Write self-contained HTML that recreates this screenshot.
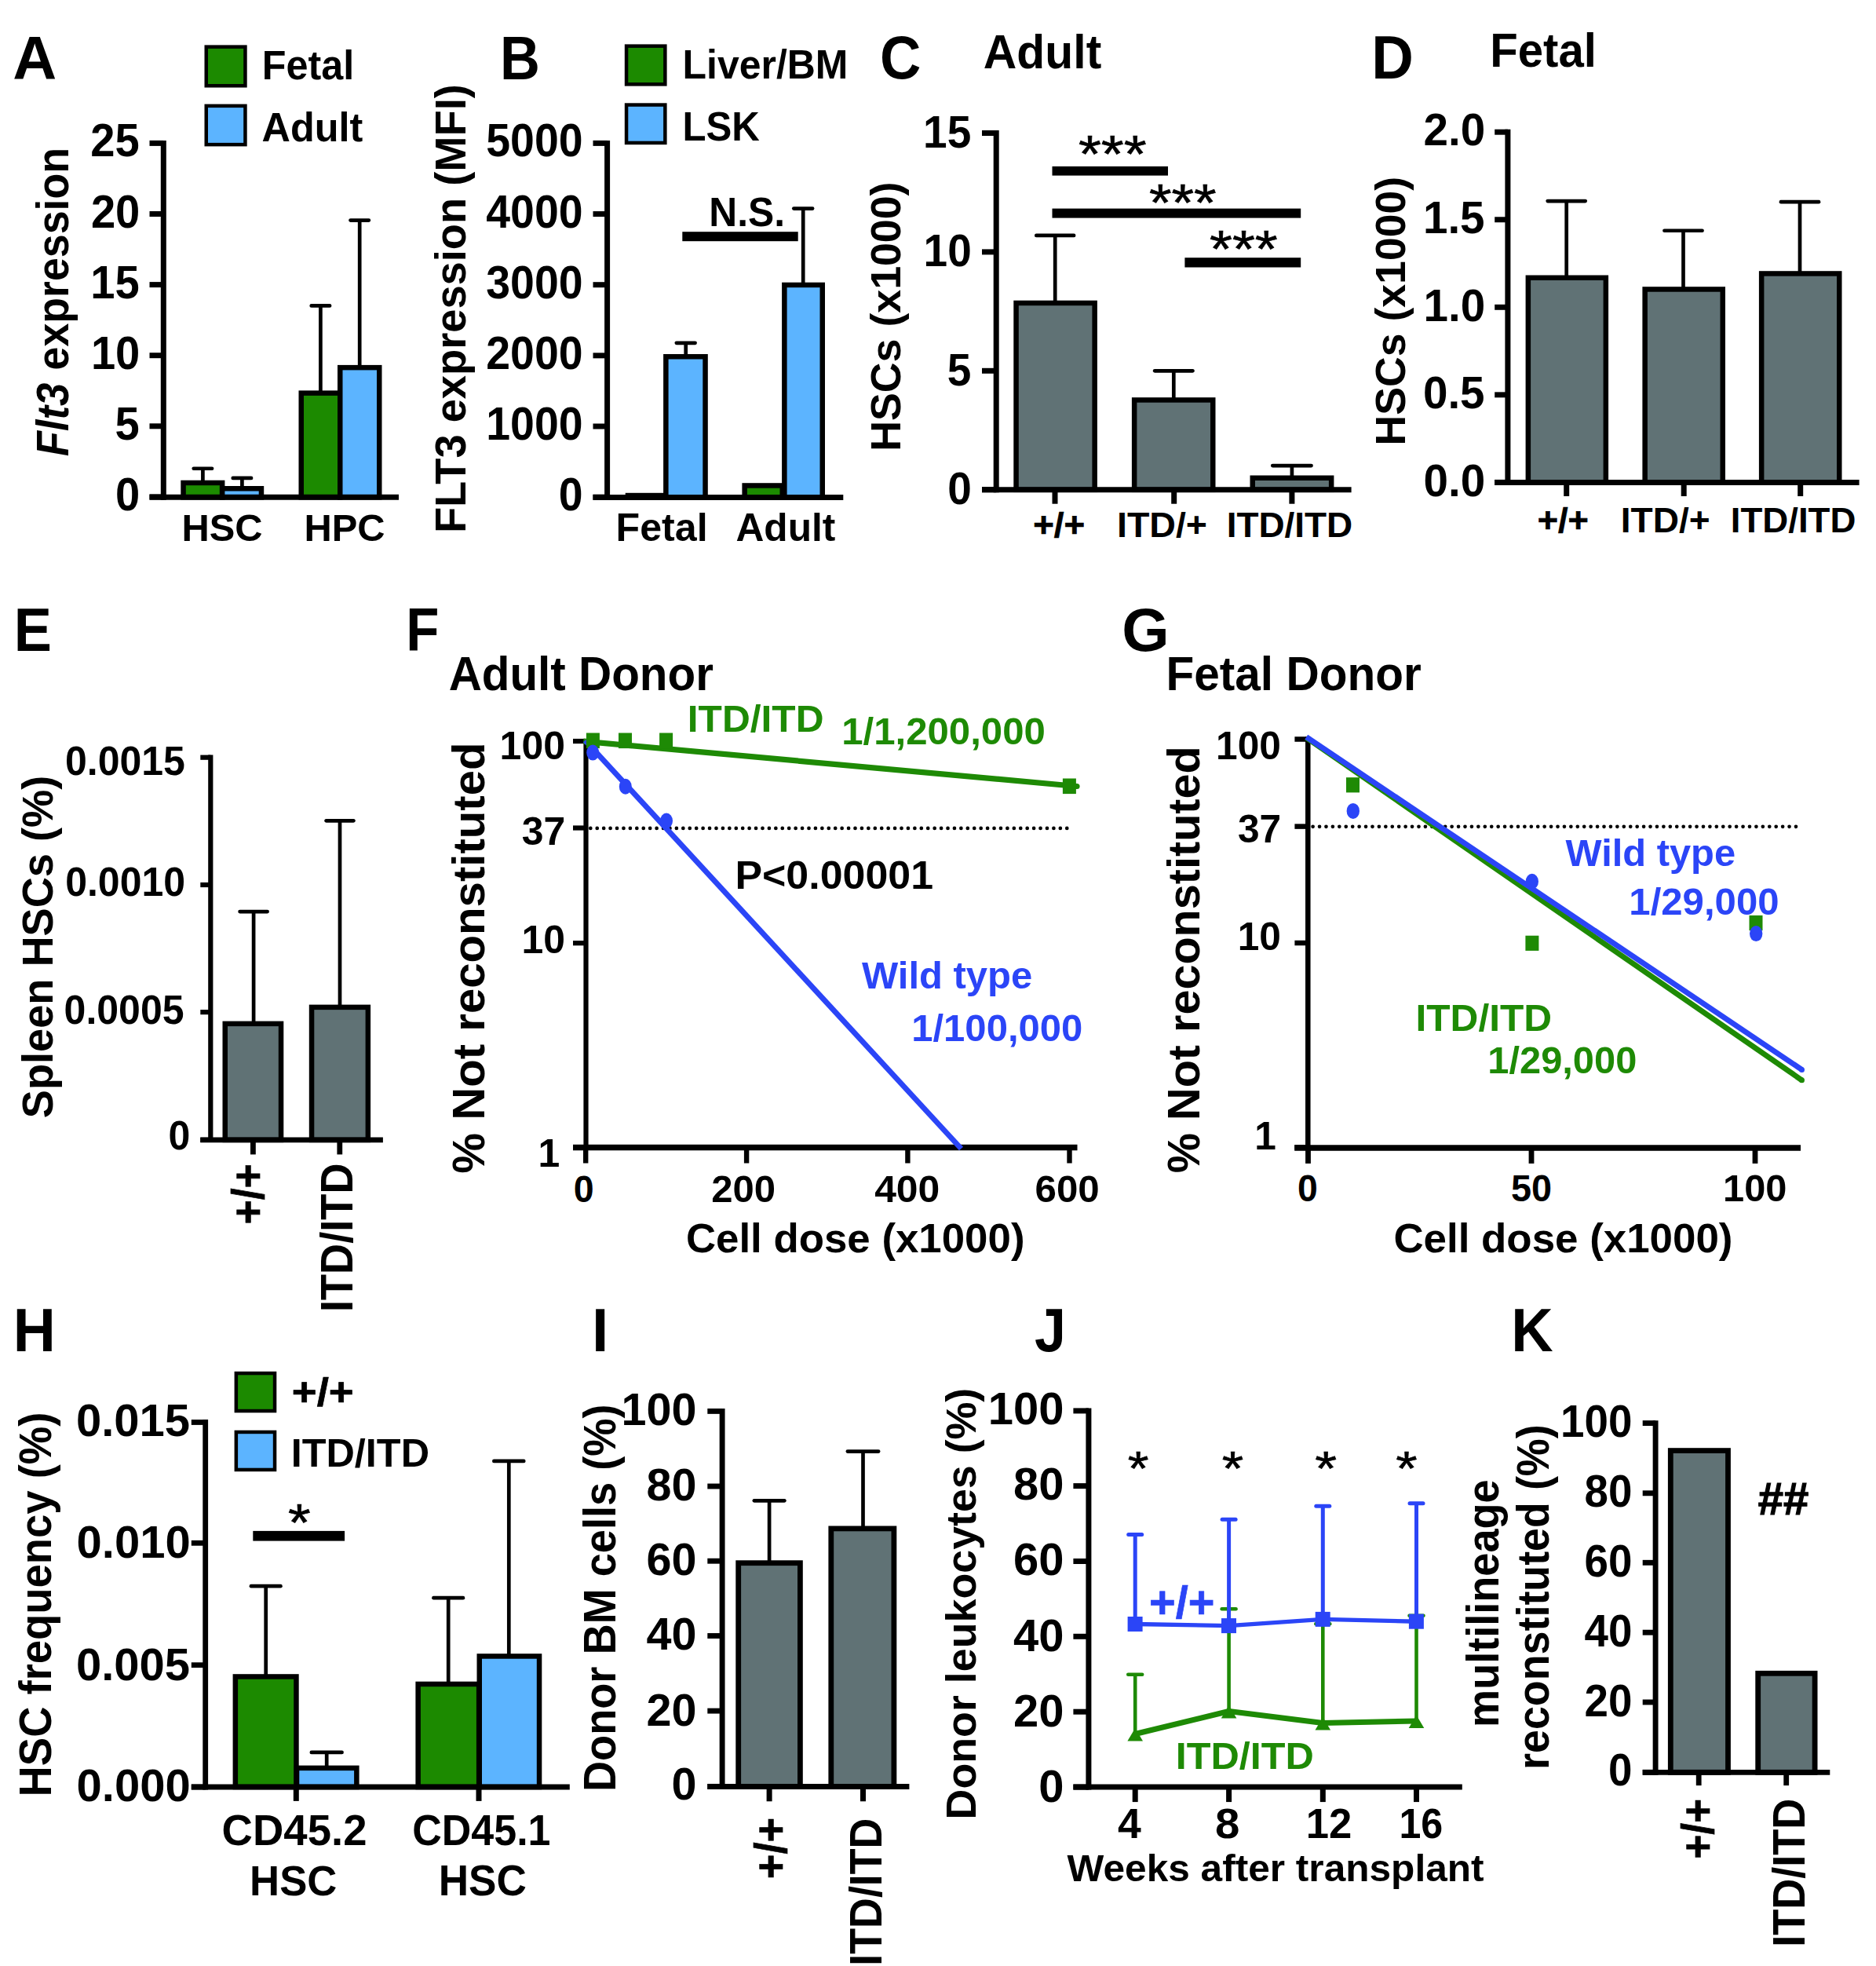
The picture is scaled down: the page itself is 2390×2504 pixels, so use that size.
<!DOCTYPE html>
<html lang="en"><head><meta charset="utf-8"><title>Figure</title>
<style>
html,body{margin:0;padding:0;background:#fff}
svg{display:block}
text{font-family:"Liberation Sans",Arial,Helvetica,sans-serif;font-weight:bold}
</style></head><body>
<svg width="2390" height="2504" viewBox="0 0 2390 2504">
<rect width="2390" height="2504" fill="#fff"/>
<!-- panelA -->
<text transform="translate(16.25,100.60) scale(1.0333,1.0300)" font-size="75">A</text>
<rect x="262.75" y="59.65" width="49.70" height="49.60" fill="#1C8A00" stroke="#000" stroke-width="4.5"/>
<rect x="262.75" y="134.85" width="49.70" height="49.30" fill="#5CB4FF" stroke="#000" stroke-width="4.5"/>
<text transform="translate(333.73,101.00) scale(1.0067,1.0300)" font-size="50">Fetal</text>
<text transform="translate(333.59,179.50) scale(1.0084,1.0300)" font-size="50">Adult</text>
<text transform="translate(115.32,199.40) scale(0.9850,1.0300)" font-size="57">25</text>
<text transform="translate(115.88,289.50) scale(0.9850,1.0300)" font-size="57">20</text>
<text transform="translate(115.32,379.60) scale(0.9850,1.0300)" font-size="57">15</text>
<text transform="translate(115.88,469.70) scale(0.9850,1.0300)" font-size="57">10</text>
<text transform="translate(146.54,559.80) scale(0.9850,1.0300)" font-size="57">5</text>
<text transform="translate(147.10,649.90) scale(0.9850,1.0300)" font-size="57">0</text>
<text transform="translate(87.00,581.29) rotate(-90) scale(0.9399,1.0300)" font-size="56" font-style="italic">Flt3</text>
<text transform="translate(87.00,471.48) rotate(-90) scale(0.9589,1.0300)" font-size="56">expression</text>
<rect x="233.55" y="614.95" width="49.60" height="18.35" fill="#1C8A00" stroke="#000" stroke-width="6.5" stroke-linejoin="miter"/>
<rect x="283.15" y="622.25" width="49.80" height="11.05" fill="#5CB4FF" stroke="#000" stroke-width="6.5" stroke-linejoin="miter"/>
<rect x="383.75" y="500.65" width="49.50" height="132.65" fill="#1C8A00" stroke="#000" stroke-width="6.5" stroke-linejoin="miter"/>
<rect x="433.25" y="468.15" width="50.00" height="165.15" fill="#5CB4FF" stroke="#000" stroke-width="6.5" stroke-linejoin="miter"/>
<line x1="258.40" y1="596.75" x2="258.40" y2="612.00" stroke="#000" stroke-width="4.7"/>
<line x1="246.75" y1="596.75" x2="270.05" y2="596.75" stroke="#000" stroke-width="4.7" stroke-linecap="round"/>
<line x1="308.40" y1="608.95" x2="308.40" y2="620.00" stroke="#000" stroke-width="4.7"/>
<line x1="296.75" y1="608.95" x2="320.05" y2="608.95" stroke="#000" stroke-width="4.7" stroke-linecap="round"/>
<line x1="408.40" y1="389.45" x2="408.40" y2="498.00" stroke="#000" stroke-width="4.7"/>
<line x1="396.75" y1="389.45" x2="420.05" y2="389.45" stroke="#000" stroke-width="4.7" stroke-linecap="round"/>
<line x1="458.20" y1="280.55" x2="458.20" y2="465.00" stroke="#000" stroke-width="4.7"/>
<line x1="446.55" y1="280.55" x2="469.85" y2="280.55" stroke="#000" stroke-width="4.7" stroke-linecap="round"/>
<line x1="208.30" y1="178.90" x2="208.30" y2="636.80" stroke="#000" stroke-width="7"/>
<line x1="190.50" y1="182.40" x2="208.30" y2="182.40" stroke="#000" stroke-width="7"/>
<line x1="190.50" y1="272.50" x2="208.30" y2="272.50" stroke="#000" stroke-width="7"/>
<line x1="190.50" y1="362.60" x2="208.30" y2="362.60" stroke="#000" stroke-width="7"/>
<line x1="190.50" y1="452.70" x2="208.30" y2="452.70" stroke="#000" stroke-width="7"/>
<line x1="190.50" y1="542.80" x2="208.30" y2="542.80" stroke="#000" stroke-width="7"/>
<line x1="190.50" y1="632.90" x2="208.30" y2="632.90" stroke="#000" stroke-width="7"/>
<line x1="190.50" y1="633.30" x2="508.00" y2="633.30" stroke="#000" stroke-width="7"/>
<text transform="translate(231.42,688.60) scale(1.0512,1.0300)" font-size="46.5">HSC</text>
<text transform="translate(387.42,688.60) scale(1.0512,1.0300)" font-size="46.5">HPC</text>
<!-- panelB -->
<text transform="translate(636.92,100.60) scale(0.9388,1.0300)" font-size="75">B</text>
<rect x="798.05" y="58.65" width="49.30" height="48.70" fill="#1C8A00" stroke="#000" stroke-width="4.5"/>
<rect x="798.05" y="133.55" width="49.30" height="48.40" fill="#5CB4FF" stroke="#000" stroke-width="4.5"/>
<text transform="translate(869.55,100.00) scale(0.9987,1.0300)" font-size="50">Liver/BM</text>
<text transform="translate(869.61,179.00) scale(0.9825,1.0300)" font-size="50">LSK</text>
<text transform="translate(619.23,199.40) scale(0.9730,1.0300)" font-size="57">5000</text>
<text transform="translate(619.23,289.55) scale(0.9730,1.0300)" font-size="57">4000</text>
<text transform="translate(619.23,379.70) scale(0.9730,1.0300)" font-size="57">3000</text>
<text transform="translate(619.23,469.85) scale(0.9730,1.0300)" font-size="57">2000</text>
<text transform="translate(619.23,560.00) scale(0.9730,1.0300)" font-size="57">1000</text>
<text transform="translate(711.76,650.15) scale(0.9730,1.0300)" font-size="57">0</text>
<text transform="translate(593.00,679.03) rotate(-90) scale(1.0052,1.0300)" font-size="54">FLT3 expression (MFI)</text>
<rect x="796.70" y="627.80" width="51.30" height="5.20" fill="#000"/>
<rect x="848.35" y="454.25" width="50.20" height="179.15" fill="#5CB4FF" stroke="#000" stroke-width="6.5" stroke-linejoin="miter"/>
<rect x="948.65" y="618.45" width="48.10" height="14.95" fill="#1C8A00" stroke="#000" stroke-width="6.5" stroke-linejoin="miter"/>
<rect x="999.35" y="362.95" width="48.40" height="270.45" fill="#5CB4FF" stroke="#000" stroke-width="6.5" stroke-linejoin="miter"/>
<line x1="873.70" y1="436.85" x2="873.70" y2="452.00" stroke="#000" stroke-width="4.7"/>
<line x1="861.80" y1="436.85" x2="885.60" y2="436.85" stroke="#000" stroke-width="4.7" stroke-linecap="round"/>
<line x1="1023.20" y1="265.55" x2="1023.20" y2="360.00" stroke="#000" stroke-width="4.7"/>
<line x1="1011.30" y1="265.55" x2="1035.10" y2="265.55" stroke="#000" stroke-width="4.7" stroke-linecap="round"/>
<rect x="869.30" y="295.20" width="147.40" height="12.00" fill="#000"/>
<text transform="translate(903.37,287.80) scale(0.9945,1.0300)" font-size="50">N.S.</text>
<line x1="773.60" y1="178.90" x2="773.60" y2="636.90" stroke="#000" stroke-width="7"/>
<line x1="755.50" y1="182.40" x2="773.60" y2="182.40" stroke="#000" stroke-width="7"/>
<line x1="755.50" y1="272.55" x2="773.60" y2="272.55" stroke="#000" stroke-width="7"/>
<line x1="755.50" y1="362.70" x2="773.60" y2="362.70" stroke="#000" stroke-width="7"/>
<line x1="755.50" y1="452.85" x2="773.60" y2="452.85" stroke="#000" stroke-width="7"/>
<line x1="755.50" y1="543.00" x2="773.60" y2="543.00" stroke="#000" stroke-width="7"/>
<line x1="755.50" y1="633.15" x2="773.60" y2="633.15" stroke="#000" stroke-width="7"/>
<line x1="755.50" y1="633.40" x2="1074.30" y2="633.40" stroke="#000" stroke-width="7"/>
<text transform="translate(784.54,688.50) scale(1.0449,1.0300)" font-size="48">Fetal</text>
<text transform="translate(937.51,688.50) scale(1.0340,1.0300)" font-size="48">Adult</text>
<!-- panelC -->
<text transform="translate(1121.00,99.53) scale(0.9669,1.0300)" font-size="75">C</text>
<text transform="translate(1252.82,86.50) scale(0.9982,1.0300)" font-size="59">Adult</text>
<text transform="translate(1176.06,188.00) scale(1.0000,1.0300)" font-size="55">15</text>
<text transform="translate(1176.61,339.40) scale(1.0000,1.0300)" font-size="55">10</text>
<text transform="translate(1206.65,490.80) scale(1.0000,1.0300)" font-size="55">5</text>
<text transform="translate(1207.20,642.20) scale(1.0000,1.0300)" font-size="55">0</text>
<text transform="translate(1146.50,574.79) rotate(-90) scale(1.0135,1.0300)" font-size="53">HSCs (x1000)</text>
<rect x="1294.55" y="385.95" width="100.10" height="237.85" fill="#607275" stroke="#000" stroke-width="6.5" stroke-linejoin="miter"/>
<rect x="1445.15" y="509.45" width="100.10" height="114.35" fill="#607275" stroke="#000" stroke-width="6.5" stroke-linejoin="miter"/>
<rect x="1595.75" y="608.75" width="100.40" height="15.05" fill="#607275" stroke="#000" stroke-width="6.5" stroke-linejoin="miter"/>
<line x1="1344.20" y1="299.95" x2="1344.20" y2="384.00" stroke="#000" stroke-width="4.7"/>
<line x1="1320.30" y1="299.95" x2="1368.10" y2="299.95" stroke="#000" stroke-width="4.7" stroke-linecap="round"/>
<line x1="1495.30" y1="472.35" x2="1495.30" y2="507.00" stroke="#000" stroke-width="4.7"/>
<line x1="1471.15" y1="472.35" x2="1519.45" y2="472.35" stroke="#000" stroke-width="4.7" stroke-linecap="round"/>
<line x1="1645.90" y1="593.05" x2="1645.90" y2="606.00" stroke="#000" stroke-width="4.7"/>
<line x1="1621.25" y1="593.05" x2="1670.55" y2="593.05" stroke="#000" stroke-width="4.7" stroke-linecap="round"/>
<rect x="1340.50" y="211.90" width="147.50" height="11.70" fill="#000"/>
<rect x="1340.50" y="265.60" width="316.70" height="12.00" fill="#000"/>
<rect x="1509.40" y="328.20" width="147.80" height="12.30" fill="#000"/>
<text transform="translate(1373.89,218.55) scale(1.0322,0.9351)" font-size="72" style="font-weight:normal" stroke="#000" stroke-width="0.7">***</text>
<text transform="translate(1463.90,281.45) scale(1.0200,0.9351)" font-size="72" style="font-weight:normal" stroke="#000" stroke-width="0.7">***</text>
<text transform="translate(1540.99,339.85) scale(1.0310,0.9351)" font-size="72" style="font-weight:normal" stroke="#000" stroke-width="0.7">***</text>
<line x1="1269.20" y1="166.00" x2="1269.20" y2="627.30" stroke="#000" stroke-width="7"/>
<line x1="1251.00" y1="169.50" x2="1269.20" y2="169.50" stroke="#000" stroke-width="7"/>
<line x1="1251.00" y1="320.90" x2="1269.20" y2="320.90" stroke="#000" stroke-width="7"/>
<line x1="1251.00" y1="472.30" x2="1269.20" y2="472.30" stroke="#000" stroke-width="7"/>
<line x1="1251.00" y1="623.70" x2="1269.20" y2="623.70" stroke="#000" stroke-width="7"/>
<line x1="1251.00" y1="623.80" x2="1721.60" y2="623.80" stroke="#000" stroke-width="7"/>
<line x1="1344.00" y1="623.80" x2="1344.00" y2="641.70" stroke="#000" stroke-width="7"/>
<line x1="1495.70" y1="623.80" x2="1495.70" y2="641.70" stroke="#000" stroke-width="7"/>
<line x1="1645.90" y1="623.80" x2="1645.90" y2="641.70" stroke="#000" stroke-width="7"/>
<text transform="translate(1316.18,683.60) scale(1.0600,1.0300)" font-size="43" stroke="#000" stroke-width="0.7">+/+</text>
<text transform="translate(1422.98,683.60) scale(1.0820,1.0300)" font-size="43">ITD/+</text>
<text transform="translate(1562.72,683.60) scale(1.0672,1.0300)" font-size="43">ITD/ITD</text>
<!-- panelD -->
<text transform="translate(1747.18,100.30) scale(0.9892,1.0300)" font-size="75">D</text>
<text transform="translate(1898.22,85.00) scale(0.9856,1.0300)" font-size="59">Fetal</text>
<text transform="translate(1813.47,185.40) scale(1.0290,1.0300)" font-size="55">2.0</text>
<text transform="translate(1812.91,296.95) scale(1.0290,1.0300)" font-size="55">1.5</text>
<text transform="translate(1813.47,408.50) scale(1.0290,1.0300)" font-size="55">1.0</text>
<text transform="translate(1812.91,520.05) scale(1.0290,1.0300)" font-size="55">0.5</text>
<text transform="translate(1813.47,631.60) scale(1.0290,1.0300)" font-size="55">0.0</text>
<text transform="translate(1789.80,567.49) rotate(-90) scale(1.0117,1.0300)" font-size="53">HSCs (x1000)</text>
<rect x="1946.85" y="353.75" width="99.00" height="260.65" fill="#607275" stroke="#000" stroke-width="6.5" stroke-linejoin="miter"/>
<rect x="2095.65" y="368.45" width="99.10" height="245.95" fill="#607275" stroke="#000" stroke-width="6.5" stroke-linejoin="miter"/>
<rect x="2244.15" y="348.45" width="99.10" height="265.95" fill="#607275" stroke="#000" stroke-width="6.5" stroke-linejoin="miter"/>
<line x1="1995.70" y1="256.05" x2="1995.70" y2="352.00" stroke="#000" stroke-width="4.7"/>
<line x1="1971.70" y1="256.05" x2="2019.70" y2="256.05" stroke="#000" stroke-width="4.7" stroke-linecap="round"/>
<line x1="2144.50" y1="293.75" x2="2144.50" y2="367.00" stroke="#000" stroke-width="4.7"/>
<line x1="2120.45" y1="293.75" x2="2168.55" y2="293.75" stroke="#000" stroke-width="4.7" stroke-linecap="round"/>
<line x1="2293.00" y1="257.15" x2="2293.00" y2="347.00" stroke="#000" stroke-width="4.7"/>
<line x1="2268.95" y1="257.15" x2="2317.05" y2="257.15" stroke="#000" stroke-width="4.7" stroke-linecap="round"/>
<line x1="1920.90" y1="164.70" x2="1920.90" y2="617.90" stroke="#000" stroke-width="7"/>
<line x1="1904.20" y1="168.20" x2="1920.90" y2="168.20" stroke="#000" stroke-width="7"/>
<line x1="1904.20" y1="279.75" x2="1920.90" y2="279.75" stroke="#000" stroke-width="7"/>
<line x1="1904.20" y1="391.30" x2="1920.90" y2="391.30" stroke="#000" stroke-width="7"/>
<line x1="1904.20" y1="502.85" x2="1920.90" y2="502.85" stroke="#000" stroke-width="7"/>
<line x1="1904.20" y1="614.40" x2="1920.90" y2="614.40" stroke="#000" stroke-width="7"/>
<line x1="1904.20" y1="614.40" x2="2368.60" y2="614.40" stroke="#000" stroke-width="7"/>
<line x1="1995.70" y1="614.40" x2="1995.70" y2="632.00" stroke="#000" stroke-width="7"/>
<line x1="2145.20" y1="614.40" x2="2145.20" y2="632.00" stroke="#000" stroke-width="7"/>
<line x1="2293.70" y1="614.40" x2="2293.70" y2="632.00" stroke="#000" stroke-width="7"/>
<text transform="translate(1958.70,677.70) scale(1.0464,1.0300)" font-size="43" stroke="#000" stroke-width="0.7">+/+</text>
<text transform="translate(2064.81,677.70) scale(1.0712,1.0300)" font-size="43">ITD/+</text>
<text transform="translate(2204.84,677.70) scale(1.0603,1.0300)" font-size="43">ITD/ITD</text>
<!-- panelE -->
<text transform="translate(17.81,829.10) scale(0.9628,1.0300)" font-size="75">E</text>
<text transform="translate(82.98,986.90) scale(1.0000,1.0300)" font-size="50">0.0015</text>
<text transform="translate(83.18,1140.90) scale(1.0000,1.0300)" font-size="50">0.0010</text>
<text transform="translate(81.58,1304.40) scale(1.0000,1.0300)" font-size="50">0.0005</text>
<text transform="translate(214.40,1463.60) scale(1.0000,1.0300)" font-size="50">0</text>
<text transform="translate(66.80,1424.25) rotate(-90) scale(1.0034,1.0300)" font-size="54">Spleen HSCs (%)</text>
<rect x="286.75" y="1303.85" width="71.30" height="148.05" fill="#607275" stroke="#000" stroke-width="6.5" stroke-linejoin="miter"/>
<rect x="397.05" y="1282.85" width="71.80" height="169.05" fill="#607275" stroke="#000" stroke-width="6.5" stroke-linejoin="miter"/>
<line x1="323.10" y1="1161.05" x2="323.10" y2="1302.00" stroke="#000" stroke-width="4.7"/>
<line x1="305.60" y1="1161.05" x2="340.60" y2="1161.05" stroke="#000" stroke-width="4.7" stroke-linecap="round"/>
<line x1="433.00" y1="1045.35" x2="433.00" y2="1281.00" stroke="#000" stroke-width="4.7"/>
<line x1="415.60" y1="1045.35" x2="450.40" y2="1045.35" stroke="#000" stroke-width="4.7" stroke-linecap="round"/>
<line x1="268.30" y1="961.60" x2="268.30" y2="1455.00" stroke="#000" stroke-width="6.2"/>
<line x1="255.30" y1="964.70" x2="268.30" y2="964.70" stroke="#000" stroke-width="6.2"/>
<line x1="255.30" y1="1127.00" x2="268.30" y2="1127.00" stroke="#000" stroke-width="6.2"/>
<line x1="255.30" y1="1289.10" x2="268.30" y2="1289.10" stroke="#000" stroke-width="6.2"/>
<line x1="255.30" y1="1451.90" x2="268.30" y2="1451.90" stroke="#000" stroke-width="6.2"/>
<line x1="255.30" y1="1451.90" x2="487.90" y2="1451.90" stroke="#000" stroke-width="6.8"/>
<line x1="322.40" y1="1451.90" x2="322.40" y2="1470.40" stroke="#000" stroke-width="6.8"/>
<line x1="432.80" y1="1451.90" x2="432.80" y2="1470.40" stroke="#000" stroke-width="6.8"/>
<text transform="translate(336.00,1559.54) rotate(-90) scale(0.9737,1.0300)" font-size="55" stroke="#000" stroke-width="0.7">+/+</text>
<text transform="translate(449.00,1671.12) rotate(-90) scale(0.9858,1.0300)" font-size="55">ITD/ITD</text>
<!-- panelF -->
<text transform="translate(517.31,828.60) scale(0.9203,1.0300)" font-size="75">F</text>
<text transform="translate(571.63,878.60) scale(0.9732,1.0300)" font-size="60">Adult Donor</text>
<text transform="translate(636.62,967.00) scale(1.0400,1.0300)" font-size="48">100</text>
<text transform="translate(664.63,1076.00) scale(1.0400,1.0300)" font-size="48">37</text>
<text transform="translate(664.38,1213.50) scale(1.0400,1.0300)" font-size="48">10</text>
<text transform="translate(685.44,1486.00) scale(1.0400,1.0300)" font-size="48">1</text>
<text transform="translate(617.00,1494.66) rotate(-90) scale(1.0389,1.0300)" font-size="56">% Not reconstituted</text>
<line x1="746.50" y1="940.90" x2="746.50" y2="1464.60" stroke="#000" stroke-width="6.2"/>
<line x1="730.00" y1="944.00" x2="746.50" y2="944.00" stroke="#000" stroke-width="6.2"/>
<line x1="730.00" y1="1054.50" x2="746.50" y2="1054.50" stroke="#000" stroke-width="6.2"/>
<line x1="730.00" y1="1201.20" x2="746.50" y2="1201.20" stroke="#000" stroke-width="6.2"/>
<line x1="730.00" y1="1461.50" x2="746.50" y2="1461.50" stroke="#000" stroke-width="6.2"/>
<line x1="730.00" y1="1461.50" x2="1372.50" y2="1461.50" stroke="#000" stroke-width="7.6"/>
<line x1="746.20" y1="1461.50" x2="746.20" y2="1481.50" stroke="#000" stroke-width="6.4"/>
<line x1="951.10" y1="1461.50" x2="951.10" y2="1481.50" stroke="#000" stroke-width="6.4"/>
<line x1="1156.40" y1="1461.50" x2="1156.40" y2="1481.50" stroke="#000" stroke-width="6.4"/>
<line x1="1362.50" y1="1461.50" x2="1362.50" y2="1481.50" stroke="#000" stroke-width="6.4"/>
<line x1="752.3" y1="1054.9" x2="1367.5" y2="1054.9" stroke="#000" stroke-width="4.7" stroke-linecap="round" stroke-dasharray="0.01 8.42"/>
<path d="M743.3,944.2 L1372,1001.5" fill="none" stroke="#1E8A05" stroke-width="7.2"/><circle cx="1372" cy="1001.5" r="3.6" fill="#1E8A05"/>
<line x1="745.5" y1="943" x2="1224.5" y2="1463" stroke="#2B45F7" stroke-width="7"/>
<rect x="746.90" y="933.50" width="17.00" height="19.60" fill="#1E8A05"/>
<rect x="788.00" y="933.50" width="17.00" height="19.60" fill="#1E8A05"/>
<rect x="840.10" y="933.50" width="17.00" height="19.60" fill="#1E8A05"/>
<rect x="1353.90" y="991.50" width="17.00" height="19.60" fill="#1E8A05"/>
<ellipse cx="755.2" cy="958.6" rx="8" ry="10" fill="#2B45F7"/>
<ellipse cx="796.8" cy="1001.7" rx="8" ry="10" fill="#2B45F7"/>
<ellipse cx="849.0" cy="1045.5" rx="8" ry="10" fill="#2B45F7"/>
<text transform="translate(730.87,1531.30) scale(1.0130,1.0300)" font-size="46">0</text>
<text transform="translate(906.13,1531.30) scale(1.0678,1.0300)" font-size="46">200</text>
<text transform="translate(1114.15,1531.30) scale(1.0834,1.0300)" font-size="46">400</text>
<text transform="translate(1318.48,1531.30) scale(1.0711,1.0300)" font-size="46">600</text>
<text transform="translate(873.89,1595.20) scale(1.0359,1.0300)" font-size="51">Cell dose (x1000)</text>
<text transform="translate(875.77,932.30) scale(1.0679,1.0300)" font-size="46.5" fill="#1E8A05">ITD/ITD</text>
<text transform="translate(1072.15,948.00) scale(1.0577,1.0300)" font-size="46.5" fill="#1E8A05">1/1,200,000</text>
<text transform="translate(936.43,1132.00) scale(1.0596,1.0300)" font-size="49">P&lt;0.00001</text>
<text transform="translate(1098.00,1259.40) scale(1.0532,1.0300)" font-size="46.5" fill="#2B45F7">Wild type</text>
<text transform="translate(1161.16,1326.00) scale(1.0554,1.0300)" font-size="46.5" fill="#2B45F7">1/100,000</text>
<!-- panelG -->
<text transform="translate(1429.19,828.73) scale(1.0353,1.0300)" font-size="75">G</text>
<text transform="translate(1485.49,879.00) scale(0.9757,1.0300)" font-size="60">Fetal Donor</text>
<text transform="translate(1549.01,967.00) scale(1.0350,1.0300)" font-size="48">100</text>
<text transform="translate(1576.89,1072.70) scale(1.0350,1.0300)" font-size="48">37</text>
<text transform="translate(1576.64,1210.00) scale(1.0350,1.0300)" font-size="48">10</text>
<text transform="translate(1598.17,1464.10) scale(1.0350,1.0300)" font-size="48">1</text>
<text transform="translate(1528.00,1494.15) rotate(-90) scale(1.0284,1.0300)" font-size="56">% Not reconstituted</text>
<line x1="1666.30" y1="938.25" x2="1666.30" y2="1464.55" stroke="#000" stroke-width="6.5"/>
<line x1="1649.40" y1="941.50" x2="1666.30" y2="941.50" stroke="#000" stroke-width="6.5"/>
<line x1="1649.40" y1="1052.60" x2="1666.30" y2="1052.60" stroke="#000" stroke-width="6.5"/>
<line x1="1649.40" y1="1201.00" x2="1666.30" y2="1201.00" stroke="#000" stroke-width="6.5"/>
<line x1="1649.40" y1="1461.30" x2="1666.30" y2="1461.30" stroke="#000" stroke-width="6.5"/>
<line x1="1649.20" y1="1462.00" x2="2294.00" y2="1462.00" stroke="#000" stroke-width="7.6"/>
<line x1="1666.50" y1="1462.00" x2="1666.50" y2="1481.90" stroke="#000" stroke-width="6.8"/>
<line x1="1951.00" y1="1462.00" x2="1951.00" y2="1481.90" stroke="#000" stroke-width="6.8"/>
<line x1="2236.00" y1="1462.00" x2="2236.00" y2="1481.90" stroke="#000" stroke-width="6.8"/>
<line x1="1672.6" y1="1052.8" x2="2289.5" y2="1052.8" stroke="#000" stroke-width="4.7" stroke-linecap="round" stroke-dasharray="0.01 8.42"/>
<line x1="1664.3" y1="939.6" x2="2295.5" y2="1375.8" stroke="#1E8A05" stroke-width="7"/><circle cx="2295.5" cy="1375.8" r="3.5" fill="#1E8A05"/>
<line x1="1664.3" y1="938.7" x2="2295.5" y2="1362.4" stroke="#2B45F7" stroke-width="7"/><circle cx="2295.5" cy="1362.4" r="3.5" fill="#2B45F7"/>
<rect x="1715.00" y="990.20" width="17.00" height="19.20" fill="#1E8A05"/>
<rect x="1943.40" y="1191.70" width="17.00" height="19.20" fill="#1E8A05"/>
<rect x="2228.50" y="1165.90" width="17.00" height="19.20" fill="#1E8A05"/>
<ellipse cx="1723.8" cy="1032.9" rx="8.2" ry="10" fill="#2B45F7"/>
<ellipse cx="1951.8" cy="1122.8" rx="8.2" ry="10" fill="#2B45F7"/>
<ellipse cx="2237.2" cy="1189.1" rx="8.2" ry="10" fill="#2B45F7"/>
<text transform="translate(1652.88,1530.00) scale(1.0085,1.0300)" font-size="46">0</text>
<text transform="translate(1924.89,1530.00) scale(1.0182,1.0300)" font-size="46">50</text>
<text transform="translate(2195.07,1530.00) scale(1.0605,1.0300)" font-size="46">100</text>
<text transform="translate(1775.38,1595.30) scale(1.0371,1.0300)" font-size="51">Cell dose (x1000)</text>
<text transform="translate(1994.60,1103.30) scale(1.0498,1.0300)" font-size="46.5" fill="#2B45F7">Wild type</text>
<text transform="translate(2075.35,1164.50) scale(1.0565,1.0300)" font-size="46.5" fill="#2B45F7">1/29,000</text>
<text transform="translate(1803.47,1313.20) scale(1.0672,1.0300)" font-size="46.5" fill="#1E8A05">ITD/ITD</text>
<text transform="translate(1895.27,1367.00) scale(1.0502,1.0300)" font-size="46.5" fill="#1E8A05">1/29,000</text>
<!-- panelH -->
<text transform="translate(16.83,1721.00) scale(0.9989,1.0300)" font-size="75">H</text>
<rect x="300.85" y="1749.05" width="49.20" height="48.00" fill="#1C8A00" stroke="#000" stroke-width="4.5"/>
<rect x="300.85" y="1823.95" width="49.20" height="48.00" fill="#5CB4FF" stroke="#000" stroke-width="4.5"/>
<text transform="translate(371.82,1789.50) scale(1.1355,1.0300)" font-size="48" stroke="#000" stroke-width="0.7">+/+</text>
<text transform="translate(370.72,1867.90) scale(1.0498,1.0300)" font-size="48">ITD/ITD</text>
<text transform="translate(96.94,1829.00) scale(1.0360,1.0300)" font-size="56">0.015</text>
<text transform="translate(97.52,1983.80) scale(1.0360,1.0300)" font-size="56">0.010</text>
<text transform="translate(96.94,2139.60) scale(1.0360,1.0300)" font-size="56">0.005</text>
<text transform="translate(97.52,2294.20) scale(1.0360,1.0300)" font-size="56">0.000</text>
<text transform="translate(65.10,2288.44) rotate(-90) scale(0.9894,1.0300)" font-size="55">HSC frequency (%)</text>
<rect x="299.85" y="2135.45" width="77.60" height="140.55" fill="#1C8A00" stroke="#000" stroke-width="6.5" stroke-linejoin="miter"/>
<rect x="378.05" y="2251.85" width="76.30" height="24.15" fill="#5CB4FF" stroke="#000" stroke-width="6.5" stroke-linejoin="miter"/>
<rect x="532.65" y="2144.95" width="77.50" height="131.05" fill="#1C8A00" stroke="#000" stroke-width="6.5" stroke-linejoin="miter"/>
<rect x="610.75" y="2109.45" width="76.30" height="166.55" fill="#5CB4FF" stroke="#000" stroke-width="6.5" stroke-linejoin="miter"/>
<line x1="338.70" y1="2020.15" x2="338.70" y2="2134.00" stroke="#000" stroke-width="4.7"/>
<line x1="319.95" y1="2020.15" x2="357.45" y2="2020.15" stroke="#000" stroke-width="4.7" stroke-linecap="round"/>
<line x1="416.20" y1="2231.95" x2="416.20" y2="2250.00" stroke="#000" stroke-width="4.7"/>
<line x1="396.85" y1="2231.95" x2="435.55" y2="2231.95" stroke="#000" stroke-width="4.7" stroke-linecap="round"/>
<line x1="571.20" y1="2035.15" x2="571.20" y2="2143.00" stroke="#000" stroke-width="4.7"/>
<line x1="552.45" y1="2035.15" x2="589.95" y2="2035.15" stroke="#000" stroke-width="4.7" stroke-linecap="round"/>
<line x1="648.30" y1="1860.95" x2="648.30" y2="2108.00" stroke="#000" stroke-width="4.7"/>
<line x1="629.35" y1="1860.95" x2="667.25" y2="1860.95" stroke="#000" stroke-width="4.7" stroke-linecap="round"/>
<rect x="322.30" y="1949.90" width="116.80" height="12.70" fill="#000"/>
<text transform="translate(366.90,1962.46) scale(1.0825,0.9818)" font-size="68" style="font-weight:normal" stroke="#000" stroke-width="0.7">*</text>
<line x1="261.70" y1="1808.10" x2="261.70" y2="2279.40" stroke="#000" stroke-width="6.8"/>
<line x1="243.80" y1="1811.50" x2="261.70" y2="1811.50" stroke="#000" stroke-width="6.8"/>
<line x1="243.80" y1="1965.30" x2="261.70" y2="1965.30" stroke="#000" stroke-width="6.8"/>
<line x1="243.80" y1="2120.70" x2="261.70" y2="2120.70" stroke="#000" stroke-width="6.8"/>
<line x1="243.80" y1="2276.00" x2="261.70" y2="2276.00" stroke="#000" stroke-width="6.8"/>
<line x1="243.80" y1="2276.00" x2="725.80" y2="2276.00" stroke="#000" stroke-width="7"/>
<line x1="377.30" y1="2276.00" x2="377.30" y2="2293.90" stroke="#000" stroke-width="7"/>
<line x1="610.00" y1="2276.00" x2="610.00" y2="2293.90" stroke="#000" stroke-width="7"/>
<text transform="translate(282.62,2349.50) scale(1.0287,1.0300)" font-size="53">CD45.2</text>
<text transform="translate(318.07,2413.80) scale(0.9952,1.0300)" font-size="53">HSC</text>
<text transform="translate(525.32,2349.50) scale(0.9807,1.0300)" font-size="53">CD45.1</text>
<text transform="translate(558.65,2413.80) scale(1.0027,1.0300)" font-size="53">HSC</text>
<!-- panelI -->
<text transform="translate(753.92,1721.00) scale(1.0222,1.0300)" font-size="75">I</text>
<text transform="translate(791.62,1815.00) scale(1.0270,1.0300)" font-size="56">100</text>
<text transform="translate(823.61,1910.50) scale(1.0270,1.0300)" font-size="56">80</text>
<text transform="translate(823.61,2005.80) scale(1.0270,1.0300)" font-size="56">60</text>
<text transform="translate(823.61,2101.30) scale(1.0270,1.0300)" font-size="56">40</text>
<text transform="translate(823.61,2197.50) scale(1.0270,1.0300)" font-size="56">20</text>
<text transform="translate(855.59,2292.30) scale(1.0270,1.0300)" font-size="56">0</text>
<text transform="translate(783.90,2282.02) rotate(-90) scale(0.9850,1.0300)" font-size="55">Donor BM cells (%)</text>
<rect x="940.70" y="1990.70" width="78.70" height="284.70" fill="#607275" stroke="#000" stroke-width="6.8" stroke-linejoin="miter"/>
<rect x="1058.80" y="1946.90" width="80.10" height="328.50" fill="#607275" stroke="#000" stroke-width="6.8" stroke-linejoin="miter"/>
<line x1="980.10" y1="1911.35" x2="980.10" y2="1989.00" stroke="#000" stroke-width="4.7"/>
<line x1="960.85" y1="1911.35" x2="999.35" y2="1911.35" stroke="#000" stroke-width="4.7" stroke-linecap="round"/>
<line x1="1099.50" y1="1848.55" x2="1099.50" y2="1945.00" stroke="#000" stroke-width="4.7"/>
<line x1="1079.85" y1="1848.55" x2="1119.15" y2="1848.55" stroke="#000" stroke-width="4.7" stroke-linecap="round"/>
<line x1="920.10" y1="1793.95" x2="920.10" y2="2278.85" stroke="#000" stroke-width="6.9"/>
<line x1="901.30" y1="1797.40" x2="920.10" y2="1797.40" stroke="#000" stroke-width="6.9"/>
<line x1="901.30" y1="1893.00" x2="920.10" y2="1893.00" stroke="#000" stroke-width="6.9"/>
<line x1="901.30" y1="1988.20" x2="920.10" y2="1988.20" stroke="#000" stroke-width="6.9"/>
<line x1="901.30" y1="2083.50" x2="920.10" y2="2083.50" stroke="#000" stroke-width="6.9"/>
<line x1="901.30" y1="2179.10" x2="920.10" y2="2179.10" stroke="#000" stroke-width="6.9"/>
<line x1="901.30" y1="2275.40" x2="920.10" y2="2275.40" stroke="#000" stroke-width="6.9"/>
<line x1="901.30" y1="2275.40" x2="1158.40" y2="2275.40" stroke="#000" stroke-width="7"/>
<line x1="980.10" y1="2275.40" x2="980.10" y2="2294.30" stroke="#000" stroke-width="7"/>
<line x1="1099.50" y1="2275.40" x2="1099.50" y2="2294.30" stroke="#000" stroke-width="7"/>
<text transform="translate(1002.00,2393.17) rotate(-90) scale(0.9844,1.0300)" font-size="55" stroke="#000" stroke-width="0.7">+/+</text>
<text transform="translate(1123.20,2503.70) rotate(-90) scale(0.9778,1.0300)" font-size="55">ITD/ITD</text>
<!-- panelJ -->
<text transform="translate(1318.12,1721.03) scale(0.9572,1.0300)" font-size="75">J</text>
<text transform="translate(1258.69,1814.30) scale(1.0350,1.0300)" font-size="56">100</text>
<text transform="translate(1290.93,1910.00) scale(1.0350,1.0300)" font-size="56">80</text>
<text transform="translate(1290.93,2006.00) scale(1.0350,1.0300)" font-size="56">60</text>
<text transform="translate(1290.93,2103.00) scale(1.0350,1.0300)" font-size="56">40</text>
<text transform="translate(1290.93,2198.50) scale(1.0350,1.0300)" font-size="56">20</text>
<text transform="translate(1323.16,2294.60) scale(1.0350,1.0300)" font-size="56">0</text>
<text transform="translate(1242.50,2317.40) rotate(-90) scale(1.0341,1.0300)" font-size="52">Donor leukocytes (%)</text>
<line x1="1446.20" y1="2132.70" x2="1446.20" y2="2208.50" stroke="#1E8A05" stroke-width="4.6"/>
<line x1="1437.25" y1="2132.70" x2="1455.15" y2="2132.70" stroke="#1E8A05" stroke-width="4.6" stroke-linecap="round"/>
<line x1="1565.60" y1="2049.30" x2="1565.60" y2="2179.50" stroke="#1E8A05" stroke-width="4.6"/>
<line x1="1556.65" y1="2049.30" x2="1574.55" y2="2049.30" stroke="#1E8A05" stroke-width="4.6" stroke-linecap="round"/>
<line x1="1685.30" y1="2068.30" x2="1685.30" y2="2194.50" stroke="#1E8A05" stroke-width="4.6"/>
<line x1="1676.35" y1="2068.30" x2="1694.25" y2="2068.30" stroke="#1E8A05" stroke-width="4.6" stroke-linecap="round"/>
<line x1="1804.50" y1="2057.80" x2="1804.50" y2="2192.00" stroke="#1E8A05" stroke-width="4.6"/>
<line x1="1795.55" y1="2057.80" x2="1813.45" y2="2057.80" stroke="#1E8A05" stroke-width="4.6" stroke-linecap="round"/>
<polyline points="1446.2,2208.5 1565.6,2179.5 1685.3,2194.5 1804.5,2192" fill="none" stroke="#1E8A05" stroke-width="7" stroke-linejoin="round"/>
<polygon points="1436.4,2217.5 1456.0,2217.5 1446.2,2201.0" fill="#1E8A05"/>
<polygon points="1555.8,2188.5 1575.3999999999999,2188.5 1565.6,2172.0" fill="#1E8A05"/>
<polygon points="1675.5,2203.5 1695.1,2203.5 1685.3,2187.0" fill="#1E8A05"/>
<polygon points="1794.7,2201 1814.3,2201 1804.5,2184.5" fill="#1E8A05"/>
<line x1="1446.20" y1="1954.50" x2="1446.20" y2="2068.50" stroke="#2B45F7" stroke-width="5"/>
<line x1="1437.70" y1="1954.50" x2="1454.70" y2="1954.50" stroke="#2B45F7" stroke-width="5" stroke-linecap="round"/>
<line x1="1565.60" y1="1935.20" x2="1565.60" y2="2070.60" stroke="#2B45F7" stroke-width="5"/>
<line x1="1557.10" y1="1935.20" x2="1574.10" y2="1935.20" stroke="#2B45F7" stroke-width="5" stroke-linecap="round"/>
<line x1="1685.30" y1="1918.30" x2="1685.30" y2="2062.40" stroke="#2B45F7" stroke-width="5"/>
<line x1="1676.80" y1="1918.30" x2="1693.80" y2="1918.30" stroke="#2B45F7" stroke-width="5" stroke-linecap="round"/>
<line x1="1804.50" y1="1914.80" x2="1804.50" y2="2065.20" stroke="#2B45F7" stroke-width="5"/>
<line x1="1796.00" y1="1914.80" x2="1813.00" y2="1914.80" stroke="#2B45F7" stroke-width="5" stroke-linecap="round"/>
<polyline points="1446.2,2068.5 1565.6,2070.6 1685.3,2062.4 1804.5,2065.2" fill="none" stroke="#2B45F7" stroke-width="5.4"/>
<rect x="1436.60" y="2059.00" width="19.00" height="19.00" fill="#2B45F7"/>
<rect x="1556.00" y="2061.10" width="19.00" height="19.00" fill="#2B45F7"/>
<rect x="1675.70" y="2052.90" width="19.00" height="19.00" fill="#2B45F7"/>
<rect x="1794.90" y="2055.70" width="19.00" height="19.00" fill="#2B45F7"/>
<text transform="translate(1436.67,1890.96) scale(1.0090,0.9114)" font-size="68" style="font-weight:normal" stroke="#000" stroke-width="0.7">*</text>
<text transform="translate(1556.64,1890.96) scale(1.0376,0.9114)" font-size="68" style="font-weight:normal" stroke="#000" stroke-width="0.7">*</text>
<text transform="translate(1675.23,1890.96) scale(1.0498,0.9114)" font-size="68" style="font-weight:normal" stroke="#000" stroke-width="0.7">*</text>
<text transform="translate(1778.35,1890.96) scale(1.0335,0.9114)" font-size="68" style="font-weight:normal" stroke="#000" stroke-width="0.7">*</text>
<text transform="translate(1463.99,2060.50) scale(1.0482,1.0300)" font-size="55" fill="#2B45F7" stroke="#2B45F7" stroke-width="0.7">+/+</text>
<text transform="translate(1497.83,2252.90) scale(1.0824,1.0300)" font-size="46.5" fill="#1E8A05">ITD/ITD</text>
<line x1="1386.90" y1="1793.40" x2="1386.90" y2="2279.60" stroke="#000" stroke-width="7"/>
<line x1="1367.40" y1="1796.90" x2="1386.90" y2="1796.90" stroke="#000" stroke-width="7"/>
<line x1="1367.40" y1="1892.60" x2="1386.90" y2="1892.60" stroke="#000" stroke-width="7"/>
<line x1="1367.40" y1="1988.50" x2="1386.90" y2="1988.50" stroke="#000" stroke-width="7"/>
<line x1="1367.40" y1="2084.30" x2="1386.90" y2="2084.30" stroke="#000" stroke-width="7"/>
<line x1="1367.40" y1="2180.20" x2="1386.90" y2="2180.20" stroke="#000" stroke-width="7"/>
<line x1="1367.40" y1="2276.10" x2="1386.90" y2="2276.10" stroke="#000" stroke-width="7"/>
<line x1="1367.40" y1="2276.10" x2="1862.80" y2="2276.10" stroke="#000" stroke-width="7"/>
<line x1="1446.20" y1="2276.10" x2="1446.20" y2="2295.10" stroke="#000" stroke-width="7"/>
<line x1="1565.60" y1="2276.10" x2="1565.60" y2="2295.10" stroke="#000" stroke-width="7"/>
<line x1="1685.30" y1="2276.10" x2="1685.30" y2="2295.10" stroke="#000" stroke-width="7"/>
<line x1="1804.50" y1="2276.10" x2="1804.50" y2="2295.10" stroke="#000" stroke-width="7"/>
<text transform="translate(1423.90,2340.60) scale(1.0392,1.0300)" font-size="51.5">4</text>
<text transform="translate(1547.91,2340.60) scale(1.0951,1.0300)" font-size="51.5">8</text>
<text transform="translate(1663.64,2340.60) scale(1.0223,1.0300)" font-size="51.5">12</text>
<text transform="translate(1782.39,2340.60) scale(0.9745,1.0300)" font-size="51.5">16</text>
<text transform="translate(1359.60,2395.60) scale(1.0551,1.0300)" font-size="47">Weeks after transplant</text>
<!-- panelK -->
<text transform="translate(1925.19,1721.00) scale(0.9867,1.0300)" font-size="75">K</text>
<text transform="translate(1988.00,1830.20) scale(0.9780,1.0300)" font-size="56">100</text>
<text transform="translate(2018.46,1919.40) scale(0.9780,1.0300)" font-size="56">80</text>
<text transform="translate(2018.46,2008.00) scale(0.9780,1.0300)" font-size="56">60</text>
<text transform="translate(2018.46,2097.00) scale(0.9780,1.0300)" font-size="56">40</text>
<text transform="translate(2018.46,2185.80) scale(0.9780,1.0300)" font-size="56">20</text>
<text transform="translate(2048.92,2273.60) scale(0.9780,1.0300)" font-size="56">0</text>
<text transform="translate(1909.00,2199.92) rotate(-90) scale(0.9835,1.0300)" font-size="55">multilineage</text>
<text transform="translate(1973.20,2254.00) rotate(-90) scale(0.9788,1.0300)" font-size="55">reconstituted (%)</text>
<rect x="2128.30" y="1847.60" width="73.20" height="409.70" fill="#607275" stroke="#000" stroke-width="6.8" stroke-linejoin="miter"/>
<rect x="2239.70" y="2131.30" width="72.40" height="126.00" fill="#607275" stroke="#000" stroke-width="6.8" stroke-linejoin="miter"/>
<text transform="translate(2239.73,1928.81) scale(1.0176,1.0094)" font-size="57" stroke="#000" stroke-width="1.2">##</text>
<line x1="2109.10" y1="1809.15" x2="2109.10" y2="2260.75" stroke="#000" stroke-width="6.9"/>
<line x1="2092.70" y1="1812.60" x2="2109.10" y2="1812.60" stroke="#000" stroke-width="6.9"/>
<line x1="2092.70" y1="1901.80" x2="2109.10" y2="1901.80" stroke="#000" stroke-width="6.9"/>
<line x1="2092.70" y1="1990.30" x2="2109.10" y2="1990.30" stroke="#000" stroke-width="6.9"/>
<line x1="2092.70" y1="2079.20" x2="2109.10" y2="2079.20" stroke="#000" stroke-width="6.9"/>
<line x1="2092.70" y1="2168.00" x2="2109.10" y2="2168.00" stroke="#000" stroke-width="6.9"/>
<line x1="2092.70" y1="2257.30" x2="2109.10" y2="2257.30" stroke="#000" stroke-width="6.9"/>
<line x1="2092.70" y1="2257.30" x2="2331.30" y2="2257.30" stroke="#000" stroke-width="6.8"/>
<line x1="2164.20" y1="2257.30" x2="2164.20" y2="2274.10" stroke="#000" stroke-width="6.8"/>
<line x1="2275.70" y1="2257.30" x2="2275.70" y2="2274.10" stroke="#000" stroke-width="6.8"/>
<text transform="translate(2182.50,2367.83) rotate(-90) scale(0.9697,1.0300)" font-size="55" stroke="#000" stroke-width="0.7">+/+</text>
<text transform="translate(2298.50,2479.71) rotate(-90) scale(0.9815,1.0300)" font-size="55">ITD/ITD</text>
</svg>
</body></html>
